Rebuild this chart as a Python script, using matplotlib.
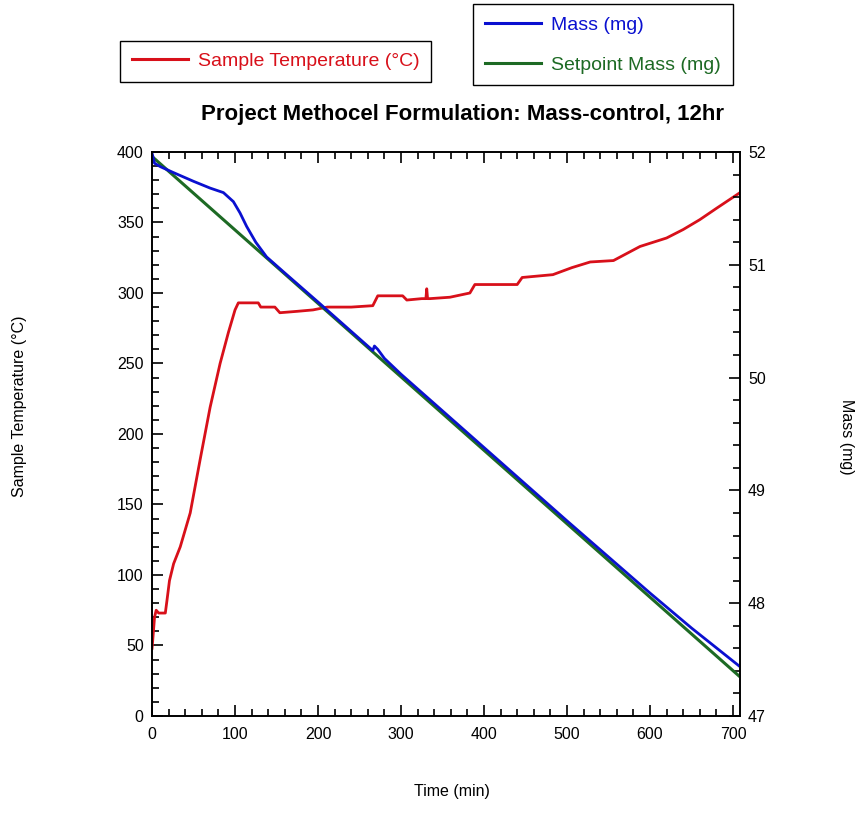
import matplotlib
matplotlib.use("Agg")
import matplotlib.pyplot as plt
from matplotlib.ticker import MultipleLocator
from matplotlib.lines import Line2D

plt.rcParams["font.family"] = ["Liberation Sans", "DejaVu Sans"]

# Sample temperature (°C) vs time (min)
temp_time = [0, 1, 3, 5, 8, 16, 18, 21, 26, 34, 46, 58, 70, 82, 92, 100, 104,
             128, 131, 148, 154, 175, 194, 211, 240, 266, 272, 302, 307, 325,
             330, 331, 332, 335, 359, 383, 389, 440, 446, 483, 506, 528, 556,
             588, 620, 640, 660, 680, 708]
temp_vals = [48, 55, 70, 75, 73, 73, 82, 96, 108, 120, 144, 182, 219, 250, 272,
             288, 293, 293, 290, 290, 286, 287, 288, 290, 290, 291, 298, 298,
             295, 296, 296, 303, 296, 296, 297, 300, 306, 306, 311, 313, 318,
             322, 323, 333, 339, 345, 352, 360, 371]

# Measured mass (mg)
mass_time = [0, 3, 10, 25, 50, 70, 86, 98, 106, 114, 125, 138, 158, 200, 266,
             268, 272, 280, 290, 300, 400, 500, 600, 650, 708]
mass_vals = [51.99, 51.90, 51.87, 51.82, 51.74, 51.68, 51.64, 51.56, 51.46,
             51.34, 51.20, 51.07, 50.94, 50.67, 50.24, 50.28, 50.25, 50.17,
             50.10, 50.03, 49.38, 48.73, 48.09, 47.78, 47.44]

# Setpoint mass (mg)
setpoint_time = [0, 708]
setpoint_vals = [51.96, 47.35]

RED = "#d8101a"
BLUE = "#0a10d0"
GREEN = "#1d6a24"

fig = plt.figure(figsize=(8.59, 8.15), dpi=100)
ax = fig.add_axes([0.177, 0.1215, 0.684, 0.692])
ax2 = ax.twinx()

ax.plot(temp_time, temp_vals, color=RED, lw=2.0)
ax2.plot(setpoint_time, setpoint_vals, color=GREEN, lw=2.2)
ax2.plot(mass_time, mass_vals, color=BLUE, lw=2.0)

ax.set_xlim(0, 708)
ax.set_ylim(0, 400)
ax2.set_ylim(47, 52)

ax.xaxis.set_major_locator(MultipleLocator(100))
ax.xaxis.set_minor_locator(MultipleLocator(20))
ax.yaxis.set_major_locator(MultipleLocator(50))
ax.yaxis.set_minor_locator(MultipleLocator(10))
ax2.yaxis.set_major_locator(MultipleLocator(1))
ax2.yaxis.set_minor_locator(MultipleLocator(0.2))

for a in (ax, ax2):
    a.tick_params(which="both", direction="in", labelsize=11.5, width=1.2)
    a.tick_params(which="major", length=8)
    a.tick_params(which="minor", length=5)
    for s in a.spines.values():
        s.set_linewidth(1.2)
ax.tick_params(axis="x", which="both", top=True)
ax.tick_params(axis="x", pad=8)
ax.tick_params(axis="y", pad=6)
ax2.tick_params(axis="y", pad=6)

fig.text(0.526, 0.029, "Time (min)", ha="center", va="center", fontsize=11.5)
fig.text(0.023, 0.502, "Sample Temperature (°C)", ha="center", va="center",
         rotation=90, fontsize=11.5)
fig.text(0.986, 0.464, "Mass (mg)", ha="center", va="center",
         rotation=-90, fontsize=11.5)
fig.text(0.538, 0.859, "Project Methocel Formulation: Mass-control, 12hr",
         ha="center", va="center", fontsize=16, fontweight="bold")

leg_kw = dict(loc="center", fontsize=14, labelcolor="linecolor",
              handlelength=2.9, handletextpad=0.5, fancybox=False,
              framealpha=1, edgecolor="black", borderpad=0.6)

leg1 = fig.legend(handles=[Line2D([], [], color=RED, lw=2.2)],
                  labels=["Sample Temperature (°C)"],
                  bbox_to_anchor=(0.321, 0.925), **leg_kw)
leg1.get_frame().set_linewidth(1.0)

leg2 = fig.legend(handles=[Line2D([], [], color=BLUE, lw=2.2),
                           Line2D([], [], color=GREEN, lw=2.2)],
                  labels=["Mass (mg)", "Setpoint Mass (mg)"],
                  bbox_to_anchor=(0.702, 0.945), labelspacing=1.15,
                  **leg_kw)
leg2.get_frame().set_linewidth(1.0)

fig.savefig("out.png", dpi=100)
